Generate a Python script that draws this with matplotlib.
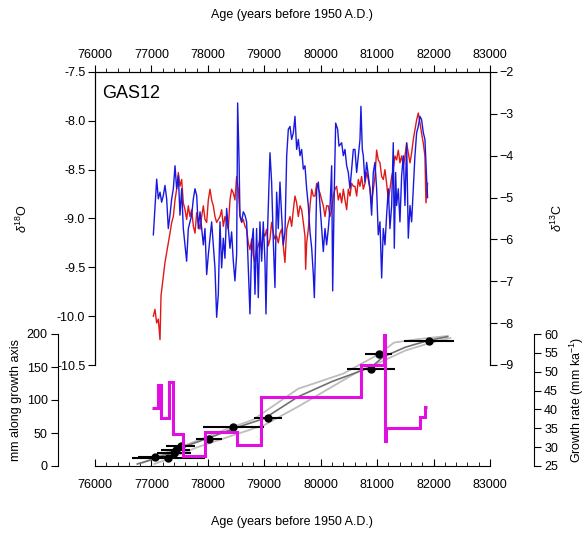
import matplotlib
matplotlib.use('Agg')
import matplotlib.pyplot as plt
from matplotlib.ticker import MultipleLocator

plt.rcParams['font.family'] = ['Liberation Sans', 'DejaVu Sans']
plt.rcParams['mathtext.fontset'] = 'custom'
plt.rcParams['mathtext.rm'] = 'Liberation Sans'
plt.rcParams['mathtext.it'] = 'Liberation Sans:italic'
plt.rcParams['font.size'] = 9

# d13C (blue, right axis)
blue_age = [77034, 77093, 77122, 77152, 77181, 77211, 77240, 77270, 77299, 77329,
            77359, 77388, 77418, 77447, 77477, 77506, 77536, 77565, 77595, 77624,
            77654, 77683, 77713, 77743, 77772, 77802, 77831, 77861, 77890, 77920,
            77949, 77979, 78008, 78038, 78067, 78097, 78126, 78156, 78185, 78215,
            78244, 78274, 78303, 78333, 78362, 78392, 78421, 78451, 78480, 78510,
            78528, 78551, 78569, 78599, 78628, 78658, 78687, 78717, 78746, 78776,
            78805, 78835, 78864, 78894, 78923, 78953, 78982, 79012, 79030, 79059,
            79101, 79130, 79160, 79189, 79219, 79248, 79278, 79307, 79337, 79367,
            79397, 79426, 79456, 79485, 79515, 79544, 79574, 79603, 79633, 79662,
            79692, 79721, 79751, 79780, 79810, 79840, 79869, 79887, 79910, 79928,
            79958, 79987, 80017, 80046, 80076, 80105, 80135, 80164, 80194, 80212,
            80241, 80265, 80300, 80324, 80371, 80401, 80430, 80460, 80489, 80519,
            80548, 80578, 80607, 80637, 80666, 80696, 80713, 80737, 80755, 80784,
            80814, 80843, 80873, 80902, 80932, 80961, 80991, 81020, 81050, 81080,
            81109, 81139, 81168, 81198, 81227, 81257, 81286, 81304, 81328, 81345,
            81375, 81404, 81434, 81464, 81493, 81523, 81552, 81582, 81611, 81641,
            81670, 81700, 81729, 81759, 81788, 81818, 81847, 81877, 81894]
blue_d13c = [-5.89, -4.56, -5.03, -4.87, -5.11, -4.95, -4.71, -5.03, -5.74, -5.42,
             -5.03, -4.79, -4.24, -4.79, -4.48, -5.42, -4.79, -5.74, -6.13, -6.52,
             -5.74, -5.58, -5.42, -5.03, -4.79, -4.95, -5.74, -5.34, -5.74, -6.13,
             -5.74, -6.84, -6.37, -5.97, -5.58, -6.13, -6.68, -7.86, -7.31, -5.58,
             -6.68, -5.97, -6.45, -5.26, -5.74, -6.21, -5.82, -6.52, -6.99, -6.37,
             -2.74, -4.00, -5.42, -5.58, -5.34, -5.42, -5.58, -6.68, -7.78, -6.13,
             -5.74, -7.31, -5.74, -7.39, -5.58, -6.52, -5.58, -6.52, -7.78, -5.74,
             -3.93, -4.63, -6.05, -7.15, -4.87, -5.74, -4.63, -5.42, -6.13, -5.82,
             -4.00, -3.37, -3.30, -3.61, -3.45, -3.06, -3.85, -3.61, -4.00, -3.85,
             -4.32, -4.24, -4.79, -5.19, -5.82, -6.21, -6.84, -7.39, -6.05, -4.79,
             -4.63, -5.19, -5.74, -6.29, -5.74, -6.13, -5.74, -5.26, -4.24, -7.23,
             -4.79, -3.22, -3.37, -3.77, -3.69, -4.00, -3.85, -4.24, -4.40, -4.79,
             -4.32, -3.85, -3.85, -4.40, -4.00, -3.61, -2.82, -3.85, -4.00, -4.63,
             -4.16, -4.48, -4.79, -5.42, -4.40, -4.16, -4.79, -5.89, -5.58, -6.92,
             -5.74, -6.13, -5.42, -4.79, -5.74, -5.19, -3.69, -6.21, -4.40, -5.19,
             -4.79, -5.58, -4.48, -4.00, -5.19, -3.69, -5.97, -5.19, -5.58, -4.79,
             -4.00, -3.45, -3.30, -3.06, -3.14, -3.45, -3.61, -4.56, -5.00]

# d18O (red, left axis)
red_age = [77034, 77063, 77093, 77122, 77152, 77170, 77211, 77240, 77270, 77299,
           77329, 77359, 77388, 77418, 77447, 77477, 77506, 77536, 77565, 77595,
           77624, 77654, 77683, 77713, 77743, 77772, 77802, 77831, 77861, 77890,
           77920, 77949, 77979, 78008, 78038, 78067, 78097, 78126, 78156, 78185,
           78215, 78244, 78274, 78303, 78333, 78362, 78392, 78421, 78451, 78480,
           78510, 78539, 78569, 78599, 78628, 78658, 78687, 78717, 78746, 78776,
           78805, 78835, 78864, 78894, 78923, 78953, 78982, 79012, 79041, 79071,
           79101, 79130, 79160, 79189, 79219, 79248, 79278, 79307, 79337, 79366,
           79397, 79426, 79456, 79485, 79515, 79544, 79574, 79603, 79633, 79662,
           79692, 79721, 79733, 79751, 79780, 79810, 79840, 79869, 79899, 79928,
           79958, 79987, 80017, 80046, 80076, 80105, 80135, 80164, 80194, 80223,
           80253, 80282, 80312, 80342, 80371, 80401, 80430, 80460, 80489, 80519,
           80548, 80578, 80607, 80637, 80666, 80696, 80725, 80755, 80784, 80814,
           80843, 80873, 80902, 80932, 80961, 80991, 81020, 81050, 81080, 81109,
           81139, 81168, 81198, 81227, 81257, 81286, 81316, 81345, 81375, 81404,
           81434, 81464, 81493, 81523, 81552, 81582, 81611, 81641, 81670, 81700,
           81729, 81759, 81788, 81818, 81847, 81865, 81894]
red_d18o = [-10.00, -9.93, -10.07, -10.03, -10.24, -9.79, -9.59, -9.45, -9.35, -9.25,
            -9.15, -9.04, -8.98, -8.81, -8.70, -8.53, -8.67, -8.60, -8.84, -8.91,
            -9.01, -8.87, -8.98, -8.91, -9.08, -9.15, -8.94, -9.04, -9.11, -8.98,
            -8.87, -9.01, -9.04, -8.81, -8.70, -8.81, -8.87, -8.98, -9.04, -9.01,
            -8.98, -8.91, -9.08, -8.98, -9.04, -9.11, -8.81, -8.70, -8.74, -8.81,
            -8.57, -8.70, -8.98, -9.04, -9.01, -9.08, -9.11, -9.25, -9.32, -9.21,
            -9.38, -9.45, -9.32, -9.28, -9.21, -9.32, -9.15, -9.18, -9.11, -9.28,
            -9.21, -9.04, -9.15, -9.21, -9.18, -9.25, -9.15, -9.11, -9.28, -9.45,
            -9.11, -9.04, -8.98, -9.08, -8.91, -8.77, -8.84, -8.98, -8.87, -8.91,
            -9.04, -9.18, -9.52, -9.25, -9.11, -8.87, -8.70, -8.77, -8.77, -8.64,
            -8.70, -8.74, -8.81, -8.87, -8.98, -8.87, -8.87, -8.98, -8.91, -8.77,
            -8.70, -8.67, -8.81, -8.74, -8.84, -8.70, -8.81, -8.91, -8.70, -8.77,
            -8.64, -8.67, -8.67, -8.77, -8.60, -8.67, -8.57, -8.70, -8.64, -8.53,
            -8.60, -8.70, -8.84, -8.70, -8.57, -8.30, -8.40, -8.43, -8.57, -8.60,
            -8.50, -8.64, -8.81, -8.70, -8.57, -8.50, -8.36, -8.40, -8.30, -8.43,
            -8.36, -8.47, -8.36, -8.23, -8.33, -8.43, -8.33, -8.19, -8.09, -7.99,
            -7.92, -8.02, -8.13, -8.23, -8.36, -8.84, -8.64]

# U-Th dates
date_age = [77070, 77300, 77400, 77430, 77520, 78020, 78450, 79060, 80890, 81030, 81920]
date_mm = [14, 12, 20, 24, 30, 41, 59, 72, 147, 170, 190]
date_err = [300, 650, 300, 260, 260, 230, 540, 250, 430, 240, 440]

# age-depth model (median and bounds)
med_age = [76750, 77100, 77500, 78000, 78500, 79000, 79600, 80200, 80900, 81100, 81500, 81900, 82250]
med_mm = [3, 12, 27, 42, 58, 72, 105, 128, 150, 165, 180, 190, 196]
up_age = [76850, 77300, 77800, 78300, 78800, 79600, 80400, 81000, 81300, 81700, 82250]
up_mm = [5, 22, 38, 55, 70, 117, 140, 168, 187, 192, 197]
lo_age = [77050, 77400, 77800, 78500, 79000, 79600, 80700, 81000, 81500, 82000, 82300]
lo_mm = [3, 14, 28, 48, 62, 90, 145, 155, 175, 188, 194]

# growth rate steps
gr_edges = [77005, 77125, 77177, 77305, 77385, 77565, 77955, 78520, 78940, 80720,
            81130, 81136, 81150, 81760, 81845, 81890]
gr_vals = [40.4, 46.5, 37.8, 47.4, 33.4, 27.7, 33.9, 30.5, 43.3, 51.8,
           60.3, 31.7, 35.2, 38.0, 40.7]

fig = plt.figure(figsize=(5.85, 5.35), dpi=100)
L, W = 95 / 585, 395 / 585

# ---- top panel
ax = fig.add_axes([L, 1 - 365 / 535, W, 293 / 535])
ax.patch.set_visible(False)
ax.plot(red_age, red_d18o, color='#e01818', lw=1.0)
ax.set_xlim(76000, 83000)
ax.set_ylim(-10.5, -7.5)
ax.xaxis.tick_top()
ax.xaxis.set_major_locator(MultipleLocator(1000))
ax.xaxis.set_minor_locator(MultipleLocator(200))
ax.yaxis.set_major_locator(MultipleLocator(0.5))
ax.yaxis.set_major_formatter(plt.FormatStrFormatter('%.1f'))
ax.spines['bottom'].set_visible(False)
ax.tick_params(axis='x', which='major', direction='out', length=5, pad=3)
ax.tick_params(axis='x', which='minor', direction='out', length=3)
ax.tick_params(axis='y', direction='out', length=5, pad=2)
ax.text(0.018, 0.928, 'GAS12', transform=ax.transAxes, fontsize=13, va='center')

ax2 = ax.twinx()
ax2.patch.set_visible(False)
ax2.plot(blue_age, blue_d13c, color='#1818e0', lw=1.0)
ax2.set_ylim(-9, -2)
ax2.yaxis.set_major_locator(MultipleLocator(1))
ax2.spines['bottom'].set_visible(False)
ax2.tick_params(axis='y', direction='out', length=5, pad=2)

# ---- bottom panel
bx = fig.add_axes([L, 1 - 466 / 535, W, 132 / 535])
bx.patch.set_visible(False)
bx.plot(up_age, up_mm, color='#bdbdbd', lw=1.3)
bx.plot(lo_age, lo_mm, color='#bdbdbd', lw=1.3)
bx.plot(med_age, med_mm, color='#707070', lw=1.2)
bx.errorbar(date_age, date_mm, xerr=date_err, fmt='o', color='black', ms=5,
            elinewidth=1.5, capsize=0)
bx.set_xlim(76000, 83000)
bx.set_ylim(0, 200)
bx.xaxis.set_major_locator(MultipleLocator(1000))
bx.xaxis.set_minor_locator(MultipleLocator(200))
bx.yaxis.set_major_locator(MultipleLocator(50))
bx.spines['top'].set_visible(False)
bx.spines['right'].set_visible(False)
bx.spines['left'].set_position(('outward', 27))
bx.tick_params(axis='x', which='major', direction='in', length=5, pad=9)
bx.tick_params(axis='x', which='minor', direction='in', length=3)
bx.tick_params(axis='y', direction='out', length=5, pad=2)

bx2 = bx.twinx()
bx2.patch.set_visible(False)
bx2.stairs(gr_vals, gr_edges, baseline=None, color='#e010e0', lw=2.2)
bx2.set_ylim(25, 60)
bx2.yaxis.set_major_locator(MultipleLocator(5))
for s in ['top', 'bottom', 'left']:
    bx2.spines[s].set_visible(False)
bx2.spines['right'].set_position(('outward', 32))
bx2.tick_params(axis='y', direction='out', length=5, pad=2)

# labels
fig.text(292 / 585, 1 - 15 / 535, 'Age (years before 1950 A.D.)', ha='center', va='center')
fig.text(292 / 585, 1 - 522 / 535, 'Age (years before 1950 A.D.)', ha='center', va='center')
fig.text(22 / 585, 1 - 218 / 535, r'$\delta^{18}$O', rotation=90, ha='center', va='center')
fig.text(557 / 585, 1 - 218 / 535, r'$\delta^{13}$C', rotation=90, ha='center', va='center')
fig.text(16 / 585, 1 - 400 / 535, 'mm along growth axis', rotation=90, ha='center', va='center')
fig.text(577 / 585, 1 - 400 / 535, 'Growth rate (mm ka$^{-1}$)', rotation=90,
         ha='center', va='center')

fig.savefig('out.png', dpi=100)
